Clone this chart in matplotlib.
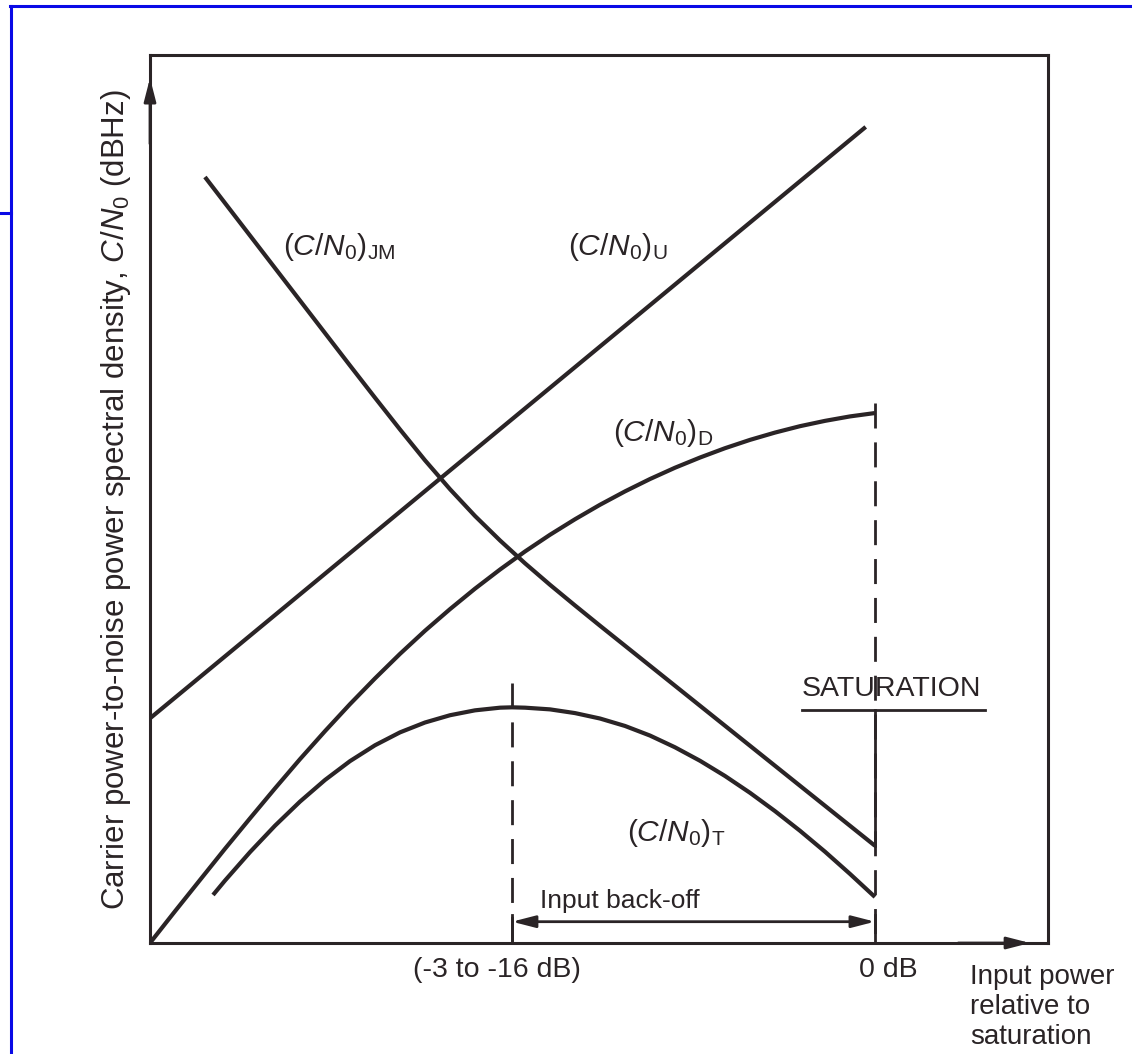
import matplotlib

matplotlib.use("Agg")
import matplotlib.pyplot as plt
from matplotlib.lines import Line2D

# Schematic figure, no numeric scale: both axes run 0-100 across the frame.
uplink_x = [0.0, 79.7]
uplink_y = [25.3, 91.9]

intermod_x = [6.12, 22.27, 25.06, 27.84, 30.62, 33.41, 36.19, 38.98, 41.76, 44.54,
              47.33, 50.11, 80.73]
intermod_y = [86.26, 65.03, 61.40, 57.83, 54.36, 51.10, 48.09, 45.33, 42.76, 40.34,
              38.01, 35.73, 10.95]

downlink_x = [0.0, 2.78, 5.57, 8.35, 11.14, 13.92, 16.70, 19.49, 22.27, 25.06, 27.84,
              30.62, 33.41, 36.19, 38.98, 41.76, 44.54, 47.33, 50.11, 52.90, 55.68,
              58.46, 61.25, 64.03, 66.82, 69.60, 72.38, 75.17, 77.95, 80.73]
downlink_y = [0.0, 3.57, 7.10, 10.61, 14.04, 17.41, 20.70, 23.86, 26.90, 29.80, 32.56,
              35.16, 37.60, 39.90, 42.06, 44.09, 45.97, 47.72, 49.35, 50.86, 52.25,
              53.52, 54.67, 55.72, 56.66, 57.48, 58.20, 58.80, 59.30, 59.68]

total_x = [7.02, 8.35, 11.14, 13.92, 16.70, 19.49, 22.27, 25.06, 27.84, 30.62, 33.41,
           36.19, 38.98, 40.31, 41.76, 44.54, 47.33, 50.11, 52.90, 55.68, 58.46, 61.25,
           64.03, 66.82, 69.60, 72.38, 75.17, 77.95, 80.73]
total_y = [5.41, 7.03, 10.24, 13.21, 15.92, 18.36, 20.48, 22.27, 23.72, 24.83, 25.65,
           26.20, 26.50, 26.54, 26.50, 26.31, 25.89, 25.28, 24.44, 23.36, 22.04, 20.52,
           18.81, 16.91, 14.85, 12.64, 10.28, 7.78, 5.18]

backoff_x = 40.31
backoff_top = 29.3
saturation_x = 80.73
saturation_top = 60.8
saturation_line_y = 26.2

curve_labels = [
    (r"$(C/N_{0})_{\mathrm{JM}}$", 14.8, 77.5),
    (r"$(C/N_{0})_{\mathrm{U}}$", 46.5, 77.5),
    (r"$(C/N_{0})_{\mathrm{D}}$", 51.6, 56.5),
    (r"$(C/N_{0})_{\mathrm{T}}$", 53.1, 11.5),
]

ink = "#2a2426"
plt.rcParams["font.family"] = ["Liberation Sans", "DejaVu Sans"]
plt.rcParams["mathtext.fontset"] = "custom"
plt.rcParams["mathtext.rm"] = "Liberation Sans"
plt.rcParams["mathtext.it"] = "Liberation Sans:italic"
plt.rcParams["mathtext.bf"] = "Liberation Sans:bold"
plt.rcParams["lines.scale_dashes"] = False

fig = plt.figure(figsize=(11.32, 10.54), dpi=100)
ax = fig.add_axes([150 / 1132, 1 - 943 / 1054, 898 / 1132, 888 / 1054])
ax.set_xlim(0, 100)
ax.set_ylim(0, 100)
ax.set_xticks([])
ax.set_yticks([])
for spine in ax.spines.values():
    spine.set_linewidth(2.2)
    spine.set_color(ink)

# page border from the scanned slide
blue = "#0a0ae6"
fig.add_artist(Line2D([10 / 1132, 1], [1 - 6 / 1054] * 2, color=blue, lw=2.2))
fig.add_artist(Line2D([11 / 1132] * 2, [0, 1 - 6 / 1054], color=blue, lw=2.2))
fig.add_artist(Line2D([0, 11 / 1132], [1 - 213 / 1054] * 2, color=blue, lw=2.2))

for xs, ys in [(uplink_x, uplink_y), (intermod_x, intermod_y),
               (downlink_x, downlink_y), (total_x, total_y)]:
    ax.plot(xs, ys, color=ink, lw=3, solid_capstyle="butt", solid_joinstyle="round")

dash = (0, (18, 10))
ax.plot([backoff_x] * 2, [backoff_top, 0], color=ink, lw=2, ls=dash)
ax.plot([saturation_x] * 2, [saturation_top, 0], color=ink, lw=2, ls=dash)
ax.plot([saturation_x] * 2, [saturation_line_y, intermod_y[-1]], color=ink, lw=2)
ax.plot([backoff_x] * 2, [0, 3.2], color=ink, lw=2)
ax.plot([saturation_x] * 2, [0, 3.2], color=ink, lw=2)

# saturation marker
ax.plot([72.6, 93.0], [saturation_line_y] * 2, color=ink, lw=2)
ax.text(72.6, 27.8, "SATURATION", fontsize=20.5, color=ink, ha="left", va="baseline")

head = dict(color=ink, lw=2, shrinkA=0, shrinkB=0, mutation_scale=20)
ax.annotate("", xy=(backoff_x, 2.4), xytext=(saturation_x, 2.4),
            arrowprops=dict(arrowstyle="<|-|>,head_length=0.7,head_width=0.18", **head))
ax.annotate("", xy=(0, 97.4), xytext=(0, 90),
            arrowprops=dict(arrowstyle="-|>,head_length=0.7,head_width=0.18", **head),
            annotation_clip=False)
ax.annotate("", xy=(98.0, 0), xytext=(90, 0),
            arrowprops=dict(arrowstyle="-|>,head_length=0.7,head_width=0.18", **head),
            annotation_clip=False)

ax.text(43.4, 3.9, "Input back-off", fontsize=19, color=ink, ha="left", va="baseline")

for text, x, y in curve_labels:
    ax.text(x, y, text, fontsize=21.5, color=ink, ha="left", va="baseline")

ax.text(38.6, -3.0, "(-3 to -16 dB)", fontsize=20.5, color=ink, ha="center",
        va="center", clip_on=False)
ax.text(82.2, -3.0, "0 dB", fontsize=20.5, color=ink, ha="center", va="center",
        clip_on=False)
ax.text(91.3, -2.4, "Input power\nrelative to\nsaturation", fontsize=20, color=ink,
        ha="left", va="top", linespacing=1.2, clip_on=False)

fig.text(116 / 1132, 1 - 500 / 1054,
         r"Carrier power-to-noise power spectral density, $C/N_{0}$ (dBHz)",
         fontsize=22.5, color=ink, rotation=90, ha="center", va="center")

fig.savefig("out.png", dpi=100, facecolor="white")
